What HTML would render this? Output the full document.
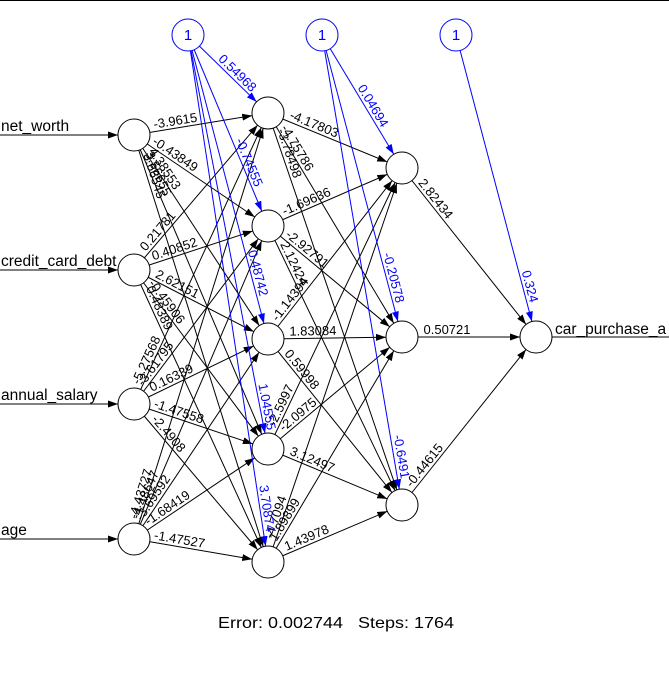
<!DOCTYPE html>
<html><head><meta charset="utf-8"><style>
html,body{margin:0;padding:0;background:#fff;}
svg{display:block;font-family:"Liberation Sans",Arial,sans-serif;}
.e{stroke:#000;stroke-width:1;marker-end:url(#a)}
.b{stroke:#0000ff;stroke-width:1;marker-end:url(#ab)}
.l{font-size:13px;text-anchor:middle;fill:#000}
.lb{font-size:13px;text-anchor:middle;fill:#0000ff}
circle{fill:#fff;stroke:#000;stroke-width:1}
</style></head><body>
<svg width="669" height="673" viewBox="0 0 669 673">
<defs>
<marker id="a" markerUnits="userSpaceOnUse" viewBox="0 -4 30 8" markerWidth="30" markerHeight="8" refX="26" refY="0" orient="auto"><path d="M0,-3.5 L10,0 L0,3.5 z" fill="#000"/></marker>
<marker id="ab" markerUnits="userSpaceOnUse" viewBox="0 -4 30 8" markerWidth="30" markerHeight="8" refX="26" refY="0" orient="auto"><path d="M0,-3.5 L10,0 L0,3.5 z" fill="#0000ff"/></marker>
</defs>
<line x1="0" y1="0.5" x2="669" y2="0.5" stroke="#000"/>
<line class="e" x1="0" y1="135" x2="134" y2="135"/>
<line class="e" x1="0" y1="270" x2="134" y2="270"/>
<line class="e" x1="0" y1="404" x2="134" y2="404"/>
<line class="e" x1="0" y1="539" x2="134" y2="539"/>
<line x1="536" y1="337" x2="669" y2="337" stroke="#000"/>
<g font-size="15.5">
<text x="1" y="131">net_worth</text>
<text x="1" y="266">credit_card_debt</text>
<text x="1" y="400">annual_salary</text>
<text x="1" y="535">age</text>
<text x="555" y="334">car_purchase_a</text>
</g>
<g>
<line class="e" x1="134" y1="135" x2="268" y2="113"/><line class="e" x1="134" y1="135" x2="268" y2="226"/><line class="e" x1="134" y1="135" x2="268" y2="339"/><line class="e" x1="134" y1="135" x2="268" y2="449"/><line class="e" x1="134" y1="135" x2="268" y2="562"/>
<line class="e" x1="134" y1="270" x2="268" y2="113"/><line class="e" x1="134" y1="270" x2="268" y2="226"/><line class="e" x1="134" y1="270" x2="268" y2="339"/><line class="e" x1="134" y1="270" x2="268" y2="449"/><line class="e" x1="134" y1="270" x2="268" y2="562"/>
<line class="e" x1="134" y1="404" x2="268" y2="113"/><line class="e" x1="134" y1="404" x2="268" y2="226"/><line class="e" x1="134" y1="404" x2="268" y2="339"/><line class="e" x1="134" y1="404" x2="268" y2="449"/><line class="e" x1="134" y1="404" x2="268" y2="562"/>
<line class="e" x1="134" y1="539" x2="268" y2="113"/><line class="e" x1="134" y1="539" x2="268" y2="226"/><line class="e" x1="134" y1="539" x2="268" y2="339"/><line class="e" x1="134" y1="539" x2="268" y2="449"/><line class="e" x1="134" y1="539" x2="268" y2="562"/>
</g>
<text class="l" transform="translate(134,135) rotate(-9.3)" x="43" y="-3">-3.9615</text>
<text class="l" transform="translate(134,135) rotate(34.2)" x="45" y="-3">-0.43849</text>
<text class="l" transform="translate(134,135) rotate(56.7)" x="45" y="-3">4.38553</text>
<text class="l" transform="translate(134,135) rotate(66.9)" x="45" y="-3">3.56655</text>
<text class="l" transform="translate(134,135) rotate(72.6)" x="45" y="-3">3.66545</text>
<text class="l" transform="translate(134,270) rotate(-49.5)" x="45" y="-3">0.21781</text>
<text class="l" transform="translate(134,270) rotate(-18.2)" x="45" y="-3">0.40852</text>
<text class="l" transform="translate(134,270) rotate(27.2)" x="45" y="-3">2.62151</text>
<text class="l" transform="translate(134,270) rotate(53.2)" x="45" y="-3">-0.45906</text>
<text class="l" transform="translate(134,270) rotate(65.3)" x="45" y="-3">0.48389</text>
<text class="l" transform="translate(134,404) rotate(-65.3)" x="45" y="-3">-5.27568</text>
<text class="l" transform="translate(134,404) rotate(-53.0)" x="45" y="-3">-3.61795</text>
<text class="l" transform="translate(134,404) rotate(-25.9)" x="45" y="-3">0.16339</text>
<text class="l" transform="translate(134,404) rotate(18.6)" x="45" y="-3">-1.47558</text>
<text class="l" transform="translate(134,404) rotate(49.7)" x="45" y="-3">-2.4908</text>
<text class="l" transform="translate(134,539) rotate(-72.5)" x="45" y="-3">-4.43727</text>
<text class="l" transform="translate(134,539) rotate(-66.8)" x="45" y="-3">-4.48647</text>
<text class="l" transform="translate(134,539) rotate(-56.2)" x="45" y="-3">-3.69592</text>
<text class="l" transform="translate(134,539) rotate(-33.9)" x="45" y="-3">-1.68419</text>
<text class="l" transform="translate(134,539) rotate(9.7)" x="45" y="-3">-1.47527</text>
<line class="e" x1="268" y1="113" x2="402" y2="168"/><line class="e" x1="268" y1="113" x2="402" y2="337"/><line class="e" x1="268" y1="113" x2="402" y2="505"/>
<line class="e" x1="268" y1="226" x2="402" y2="168"/><line class="e" x1="268" y1="226" x2="402" y2="337"/><line class="e" x1="268" y1="226" x2="402" y2="505"/>
<line class="e" x1="268" y1="339" x2="402" y2="168"/><line class="e" x1="268" y1="339" x2="402" y2="337"/><line class="e" x1="268" y1="339" x2="402" y2="505"/>
<line class="e" x1="268" y1="449" x2="402" y2="168"/><line class="e" x1="268" y1="449" x2="402" y2="337"/><line class="e" x1="268" y1="449" x2="402" y2="505"/>
<line class="e" x1="268" y1="562" x2="402" y2="168"/><line class="e" x1="268" y1="562" x2="402" y2="337"/><line class="e" x1="268" y1="562" x2="402" y2="505"/>
<text class="l" transform="translate(268,113) rotate(22.3)" x="47" y="-3">-4.17803</text>
<text class="l" transform="translate(268,113) rotate(59.1)" x="45" y="-3">-4.75786</text>
<text class="l" transform="translate(268,113) rotate(71.1)" x="45" y="-3">-3.78498</text>
<text class="l" transform="translate(268,226) rotate(-23.4)" x="45" y="-3">-1.69636</text>
<text class="l" transform="translate(268,226) rotate(39.6)" x="45" y="-3">-2.92791</text>
<text class="l" transform="translate(268,226) rotate(64.3)" x="45" y="-3">2.12424</text>
<text class="l" transform="translate(268,339) rotate(-51.9)" x="45" y="-3">-1.14394</text>
<text class="l" transform="translate(268,339) rotate(-0.9)" x="45" y="-3">1.83084</text>
<text class="l" transform="translate(268,339) rotate(51.1)" x="45" y="-3">0.59998</text>
<text class="l" transform="translate(268,449) rotate(-64.5)" x="45" y="-3">-2.5997</text>
<text class="l" transform="translate(268,449) rotate(-39.9)" x="45" y="-3">-2.0975</text>
<text class="l" transform="translate(268,449) rotate(22.7)" x="45" y="-3">3.12497</text>
<text class="l" transform="translate(268,562) rotate(-71.2)" x="45" y="-3">-4.7094</text>
<text class="l" transform="translate(268,562) rotate(-59.2)" x="45" y="-3">1.89899</text>
<text class="l" transform="translate(268,562) rotate(-23.0)" x="45" y="-3">1.43978</text>
<line class="e" x1="402" y1="168" x2="536" y2="337"/><line class="e" x1="402" y1="337" x2="536" y2="337"/><line class="e" x1="402" y1="505" x2="536" y2="337"/>
<text class="l" transform="translate(402,168) rotate(51.6)" x="45" y="-3">2.82434</text>
<text class="l" transform="translate(402,337) rotate(0)" x="45" y="-3">0.50721</text>
<text class="l" transform="translate(402,505) rotate(-51.4)" x="45" y="-3">-0.44615</text>
<line class="b" x1="188" y1="35" x2="268" y2="113"/><line class="b" x1="188" y1="35" x2="268" y2="226"/><line class="b" x1="188" y1="35" x2="268" y2="339"/><line class="b" x1="188" y1="35" x2="268" y2="449"/><line class="b" x1="188" y1="35" x2="268" y2="562"/>
<line class="b" x1="322" y1="35" x2="402" y2="168"/><line class="b" x1="322" y1="35" x2="402" y2="337"/><line class="b" x1="322" y1="35" x2="402" y2="505"/>
<line class="b" x1="456" y1="35" x2="536" y2="337"/>
<text class="lb" transform="translate(188,35) rotate(44.3)" x="62" y="-3">0.54968</text>
<text class="lb" transform="translate(188,35) rotate(67.3)" x="141" y="-3">-0.74555</text>
<text class="lb" transform="translate(188,35) rotate(75.3)" x="248" y="-3">0.48742</text>
<text class="lb" transform="translate(188,35) rotate(79.1)" x="380" y="-3">1.04555</text>
<text class="lb" transform="translate(188,35) rotate(81.4)" x="480" y="-3">3.70874</text>
<text class="lb" transform="translate(322,35) rotate(59.0)" x="87" y="-3">0.04694</text>
<text class="lb" transform="translate(322,35) rotate(75.2)" x="253" y="-3">-0.20578</text>
<text class="lb" transform="translate(322,35) rotate(80.3)" x="429" y="-3">-0.6491</text>
<text class="lb" transform="translate(456,35) rotate(75.2)" x="262" y="-3">0.324</text>
<circle cx="134" cy="135" r="16"/><circle cx="134" cy="270" r="16"/><circle cx="134" cy="404" r="16"/><circle cx="134" cy="539" r="16"/>
<circle cx="268" cy="113" r="16"/><circle cx="268" cy="226" r="16"/><circle cx="268" cy="339" r="16"/><circle cx="268" cy="449" r="16"/><circle cx="268" cy="562" r="16"/>
<circle cx="402" cy="168" r="16"/><circle cx="402" cy="337" r="16"/><circle cx="402" cy="505" r="16"/>
<circle cx="536" cy="337" r="16"/>
<circle cx="188" cy="35" r="16" style="stroke:#0000ff"/><circle cx="322" cy="35" r="16" style="stroke:#0000ff"/><circle cx="456" cy="35" r="16" style="stroke:#0000ff"/>
<g font-size="15" fill="#0000ff" text-anchor="middle">
<text x="188" y="40">1</text><text x="322" y="40">1</text><text x="456" y="40">1</text>
</g>
<text x="218" y="628" font-size="16" textLength="236" lengthAdjust="spacingAndGlyphs" style="white-space:pre">Error: 0.002744   Steps: 1764</text>
</svg>
</body></html>
